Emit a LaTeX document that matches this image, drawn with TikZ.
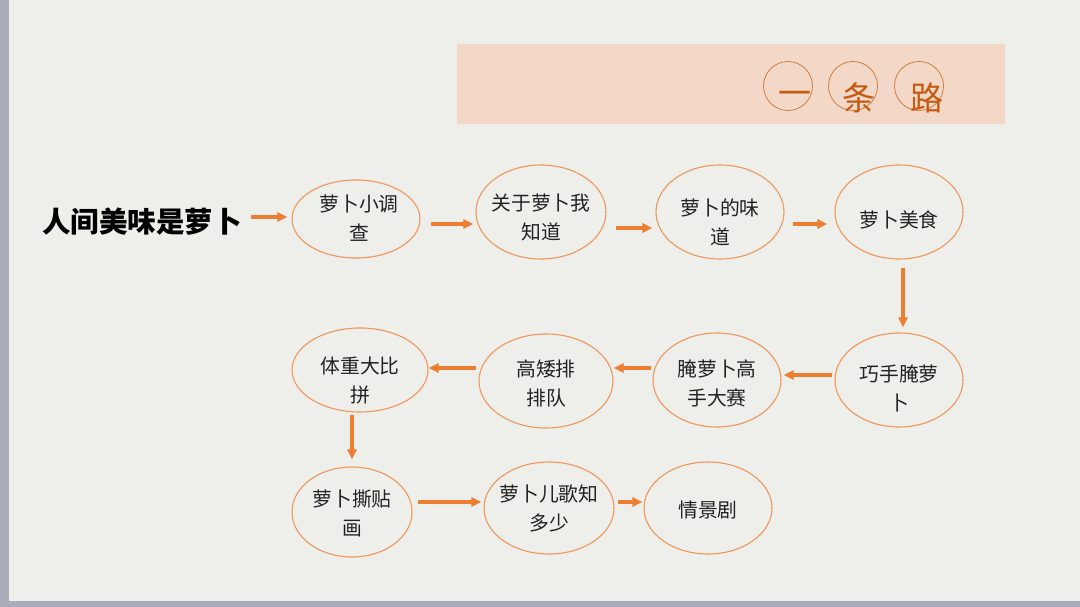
\documentclass[tikz,border=0pt]{standalone}
\usepackage{fontspec}
\setmainfont{Noto Sans CJK SC}
\usetikzlibrary{shapes.geometric,arrows.meta}
\definecolor{paper}{HTML}{EEEEEB}
\definecolor{edge}{HTML}{A8ADB9}
\definecolor{peach}{HTML}{F3D8C7}
\definecolor{lineorg}{HTML}{F0965A}
\definecolor{arrorg}{HTML}{ED7D31}
\definecolor{darkorg}{HTML}{C55A11}
\definecolor{txtgray}{HTML}{222222}

\begin{document}
\begin{tikzpicture}[x=1pt,y=-1pt,
  oval/.style={ellipse,draw=lineorg,line width=1.1pt,inner sep=0pt,
    minimum width=128,minimum height=94},
  ovaltxt/.style={text=txtgray,align=center,inner sep=0pt,
    font=\fontsize{19.8}{29}\selectfont},
  flow/.style={draw=arrorg,line width=3.2pt,-{Triangle[length=10pt,width=9pt]}},
  ring/.style={circle,draw=darkorg!80,line width=0.8pt,minimum size=49,inner sep=0pt},
  ringtxt/.style={text=darkorg,font=\fontsize{33}{33}\selectfont,inner sep=0pt}]
\useasboundingbox (0,0) rectangle (1080,607);
%
\fill[edge] (0,0) rectangle (1080,607);
\fill[paper] (9,0) rectangle (1080,601);
\fill[peach] (457,44) rectangle (1005,124);
%
\node[ring] (c1) at (788,86) {};
\node[ring] (c2) at (853,86) {};
\node[ring] (c3) at (919,86) {};
\node[ringtxt] (k1) at (795,98) {一};
\node[ringtxt] (k2) at (859,98) {条};
\node[ringtxt] (k3) at (927,98) {路};
%
\node[anchor=west,inner sep=0pt,font=\fontsize{28.5}{28.5}\selectfont\bfseries] (head) at (42,222) {人间美味是萝卜};
%
\node[oval,minimum height=78] (e1) at (356,219) {};
\node[oval,minimum width=130] (e2) at (541,212) {};
\node[oval] (e3) at (720,212) {};
\node[oval] (e4) at (899,212) {};
\node[oval] (e5) at (899,380) {};
\node[oval] (e6) at (717,380) {};
\node[oval,minimum width=134] (e7) at (546,381) {};
\node[oval,minimum width=136,minimum height=84] (e8) at (360,370) {};
\node[oval,minimum width=120,minimum height=90] (e9) at (352,512) {};
\node[oval,minimum width=130,minimum height=92] (e10) at (549,508) {};
\node[oval,minimum height=92] (e11) at (708,508) {};
%
\node[ovaltxt] (t1) at ([shift={(3,-1)}]e1) {萝卜小调\\查};
\node[ovaltxt] (t2) at ([shift={(0,5)}]e2) {关于萝卜我\\知道};
\node[ovaltxt] (t3) at ([shift={(0,10)}]e3) {萝卜的味\\道};
\node[ovaltxt] (t4) at ([shift={(0,8)}]e4) {萝卜美食};
\node[ovaltxt] (t5) at ([shift={(0,8)}]e5) {巧手腌萝\\卜};
\node[ovaltxt] (t6) at ([shift={(0,3)}]e6) {腌萝卜高\\手大赛};
\node[ovaltxt] (t7) at ([shift={(0,2)}]e7) {高矮排\\排队};
\node[ovaltxt] (t8) at ([shift={(0,11)}]e8) {体重大比\\拼};
\node[ovaltxt] (t9) at ([shift={(0,1)}]e9) {萝卜撕贴\\画};
\node[ovaltxt] (t10) at (e10) {萝卜儿歌知\\多少};
\node[ovaltxt] (t11) at ([shift={(0,2)}]e11) {情景剧};
%
\draw[flow] ([shift={(9,-5)}]head.east) -- ([shift={(-4,-5)}]head.east -| e1.west);
\draw[flow] ([shift={(10,5)}]e1.east) -- ([shift={(-2,5)}]e1.east -| e2.west);
\draw[flow] ([shift={(9,16)}]e2.east) -- ([shift={(-3,16)}]e2.east -| e3.west);
\draw[flow] ([shift={(8,12)}]e3.east) -- ([shift={(-7,12)}]e3.east -| e4.west);
\draw[flow] ([shift={(4,8)}]e4.south) -- ([shift={(4,-5)}]e4.south |- e5.north);
\draw[flow] ([shift={(-2,-5)}]e5.west) -- ([shift={(2,-5)}]e5.west -| e6.east);
\draw[flow] ([shift={(-1,-12)}]e6.west) -- ([shift={(0,-12)}]e6.west -| e7.east);
\draw[flow] ([shift={(-2,-13)}]e7.west) -- ([shift={(0,-13)}]e7.west -| e8.east);
\draw[flow] ([shift={(0,2)}]e9.north |- e8.south) -- ([shift={(0,-7)}]e9.north);
\draw[flow] ([shift={(5,-10)}]e9.east) -- ([shift={(-2,-10)}]e9.east -| e10.west);
\draw[flow] ([shift={(3,-6)}]e10.east) -- ([shift={(-1,-6)}]e10.east -| e11.west);
\end{tikzpicture}
\end{document}
